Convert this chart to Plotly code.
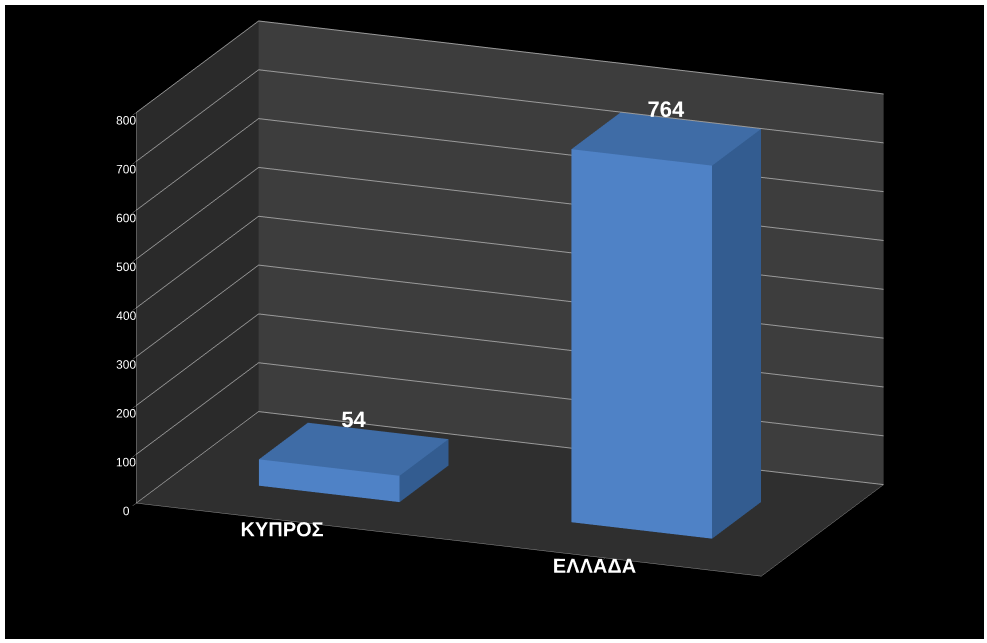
import plotly.graph_objects as go

# chart data
categories = ["ΚΥΠΡΟΣ", "ΕΛΛΑΔΑ"]
values = [54, 764]
value_ticks = [0, 100, 200, 300, 400, 500, 600, 700, 800]

FRONT = "#4F82C6"
TOP = "#3F6CA6"
SIDE = "#335C90"


def bar_mesh(xc, h, width=0.45, y0=0.3, y1=0.7):
    x0, x1 = xc - width / 2, xc + width / 2
    xs = [x0, x1, x1, x0, x0, x1, x1, x0]
    ys = [y0, y0, y1, y1, y0, y0, y1, y1]
    zs = [0, 0, 0, 0, h, h, h, h]
    tri = [
        (0, 1, 5, FRONT), (0, 5, 4, FRONT),
        (3, 2, 6, SIDE), (3, 6, 7, SIDE),
        (0, 3, 7, SIDE), (0, 7, 4, SIDE),
        (1, 2, 6, SIDE), (1, 6, 5, SIDE),
        (0, 1, 2, SIDE), (0, 2, 3, SIDE),
        (4, 5, 6, TOP), (4, 6, 7, TOP),
    ]
    return go.Mesh3d(
        x=xs, y=ys, z=zs,
        i=[t[0] for t in tri], j=[t[1] for t in tri], k=[t[2] for t in tri],
        facecolor=[t[3] for t in tri],
        flatshading=True,
        lighting=dict(ambient=1.0, diffuse=0.0, specular=0.0, fresnel=0.0),
        hoverinfo="skip", showscale=False,
    )


xpos = [i + 0.5 for i in range(len(categories))]
data = [bar_mesh(x, v) for x, v in zip(xpos, values)]
data.append(go.Scatter3d(
    x=xpos, y=[0.5] * len(values), z=values,
    mode="text", text=[str(v) for v in values],
    textposition="top center",
    textfont=dict(family="Liberation Sans", size=22, color="white", weight="bold"),
    hoverinfo="skip", showlegend=False,
))

axis_common = dict(
    showspikes=False, zeroline=False, title=dict(text=""),
    linecolor="#8c8c8c", showline=True, tickangle=0,
)

# camera: look direction from the right-front, slightly shifted
shift = dict(x=-0.039, y=-0.034, z=-0.072)
eye = dict(x=0.648 + shift["x"], y=-1.64 + shift["y"], z=0.546 + shift["z"])

layout = go.Layout(
    width=987, height=643,
    margin=dict(l=5, r=3, t=5, b=4),
    paper_bgcolor="white",
    showlegend=False,
    scene=dict(
        domain=dict(x=[0, 1], y=[0, 1]),
        bgcolor="black",
        aspectmode="manual",
        aspectratio=dict(x=2.12, y=1.05, z=1.29),
        camera=dict(eye=eye, center=shift, projection=dict(type="orthographic")),
        xaxis=dict(axis_common, range=[0, len(categories)], tickvals=xpos, ticktext=categories,
                   showgrid=False, showbackground=True, backgroundcolor="#2a2a2a",
                   ticks="outside", ticklen=12, tickcolor="#8c8c8c",
                   tickfont=dict(family="Liberation Sans", size=15.5, color="white", weight="bold")),
        yaxis=dict(axis_common, range=[0, 1], showticklabels=False, showgrid=False,
                   showbackground=True, backgroundcolor="#3d3d3d", ticks=""),
        zaxis=dict(axis_common, range=[0, 800], tickvals=value_ticks, showgrid=True,
                   gridcolor="#9a9a9a", showbackground=True, backgroundcolor="#2f2f2f",
                   ticks="outside", ticklen=4, tickcolor="#8c8c8c",
                   tickfont=dict(family="Liberation Sans", size=12, color="white")),
    ),
)

fig = go.Figure(data=data, layout=layout)
fig.write_html("out.html", config={"displayModeBar": False},
               post_script="document.body.style.margin='0px';")
